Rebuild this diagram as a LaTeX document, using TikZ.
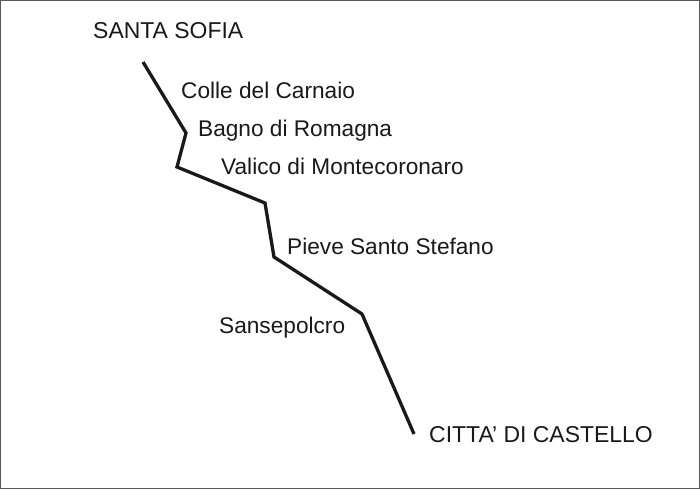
\documentclass[tikz,border=0pt]{standalone}
\usepackage{fontspec}
\setmainfont{Liberation Sans}
\begin{document}
\begin{tikzpicture}[x=1pt,y=-1pt,
 lbl/.style={anchor=base west,inner sep=0pt,font=\fontsize{22.65}{26}\selectfont,text=black!90},
 caps/.style={lbl,font=\fontsize{22.95}{26}\selectfont},
 route/.style={line width=3.3pt,black!90,line join=miter}]
\useasboundingbox (0,0) rectangle (700,489);
\draw[line width=1pt,black!65] (0.5,0.5) rectangle (699.5,488.5);
\coordinate (p0) at (143,62);
\coordinate (p1) at (186,133);
\coordinate (p2) at (177,167);
\coordinate (p3) at (265,203);
\coordinate (p4) at (274,257);
\coordinate (p5) at (362,314);
\coordinate (p6) at (414,434);
\draw[route] (p0)--(p1)--(p2)--(p3)--(p4)--(p5)--(p6);
\node[caps] (a) at (93,39) {SANTA SOFIA};
\node[lbl] (b) at (181,99) {Colle del Carnaio};
\node[lbl] (c) at (198,136) {Bagno di Romagna};
\node[lbl] (d) at (221,174) {Valico di Montecoronaro};
\node[lbl] (e) at (287,254) {Pieve Santo Stefano};
\node[lbl] (f) at (219,333) {Sansepolcro};
\node[caps] (g) at (429,442) {CITTA’ DI CASTELLO};
\end{tikzpicture}
\end{document}
